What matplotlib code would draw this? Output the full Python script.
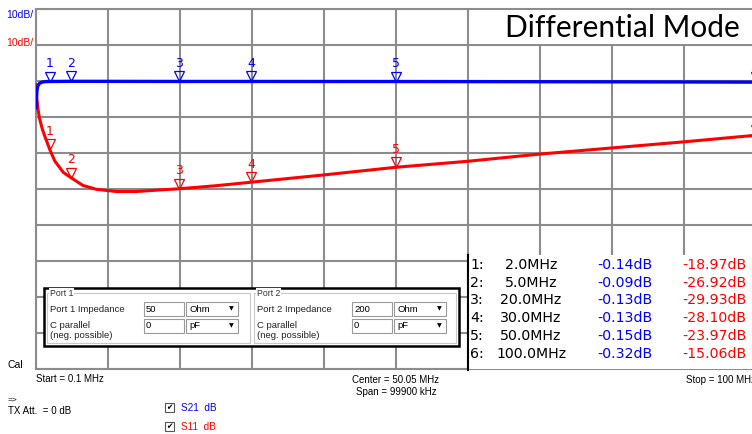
import matplotlib
matplotlib.use("Agg")
import matplotlib.pyplot as plt
from matplotlib.patches import Rectangle
from matplotlib.transforms import offset_copy

# trace data (MHz, dB)
s21_freq = [0.1, 0.15, 0.24, 0.35, 0.52, 0.75, 1.07, 1.5, 2.0, 5.0, 10.0, 20.0,
            30.0, 50.0, 60.0, 70.0, 80.0, 90.0, 100.0]
s21_db = [-7.4, -5.0, -2.5, -1.4, -0.8, -0.45, -0.25, -0.17, -0.14, -0.09, -0.10,
          -0.13, -0.13, -0.15, -0.17, -0.20, -0.23, -0.27, -0.32]

s11_freq = [0.1, 0.2, 0.35, 0.6, 1.0, 1.35, 2.0, 2.7, 3.9, 5.0, 6.6, 8.5, 11.3,
            14.0, 17.0, 20.0, 25.0, 30.0, 40.0, 50.0, 60.0, 70.0, 80.0, 90.0, 100.0]
s11_db = [-1.0, -4.5, -7.5, -10.5, -13.5, -15.5, -18.97, -22.2, -25.4, -26.92,
          -29.0, -30.1, -30.7, -30.7, -30.3, -29.93, -29.1, -28.10, -26.1, -23.97,
          -22.3, -20.3, -18.6, -16.9, -15.06]

mk_freq = [2.0, 5.0, 20.0, 30.0, 50.0, 100.0]
mk_label = ["2.0MHz", "5.0MHz", "20.0MHz", "30.0MHz", "50.0MHz", "100.0MHz"]
mk_s21 = [-0.14, -0.09, -0.13, -0.13, -0.15, -0.32]
mk_s11 = [-18.97, -26.92, -29.93, -28.10, -23.97, -15.06]

BLUE, RED, GRID = "#0000ff", "#ff0000", "#8c8c8c"
W, H = 752, 434

fig = plt.figure(figsize=(W / 100, H / 100), dpi=100)
ax = fig.add_axes([36 / W, 1 - 369 / H, 720 / W, 360 / H])
ax.set_xlim(0.1, 100)
ax.set_ylim(-80, 20)
ax.set_xticks([0.1 + 9.99 * i for i in range(11)])
ax.set_yticks(range(-80, 21, 10))
ax.tick_params(length=0, labelbottom=False, labelleft=False)
ax.grid(True, color=GRID, lw=1.5)
for s in ax.spines.values():
    s.set_color(GRID); s.set_linewidth(1.5)

ax.plot(s11_freq, s11_db, color=RED, lw=2.2, solid_joinstyle="round", zorder=3)
ax.plot(s21_freq, s21_db, color=BLUE, lw=2.4, solid_joinstyle="round", zorder=4)

up = offset_copy(ax.transData, fig=fig, x=0, y=5, units="dots")
for vals, c in ((mk_s21, BLUE), (mk_s11, RED)):
    ax.plot(mk_freq, vals, "v", ms=7, mfc="none", mec=c, mew=0.9,
            transform=up, clip_on=False, zorder=5)
    for i, (f, v) in enumerate(zip(mk_freq, vals)):
        ax.annotate(str(i + 1), (f, v), xytext=(0, 13), textcoords="offset points",
                    ha="center", va="center", color=c, fontsize=9,
                    annotation_clip=False, zorder=5)

# overlay in screen pixels for the GUI parts
ov = fig.add_axes([0, 0, 1, 1], zorder=10)
ov.set_xlim(0, W); ov.set_ylim(H, 0); ov.axis("off")

def box(x0, y0, x1, y1, fc="white", ec="none", lw=1.0):
    ov.add_patch(Rectangle((x0, y0), x1 - x0, y1 - y0, fc=fc, ec=ec, lw=lw))

def txt(x, y, s, **kw):
    kw.setdefault("fontsize", 6.8)
    kw.setdefault("va", "center")
    kw.setdefault("family", "Liberation Sans")
    ov.text(x, y, s, **kw)

# title
box(470, 10, 756, 44)
txt(505, 28, "Differential Mode", fontsize=21.5, family="Lato", color="black")

txt(33, 15, "10dB/", color=BLUE, ha="right", fontsize=7.5)
txt(33, 43, "10dB/", color=RED, ha="right", fontsize=7.5)

# marker table
box(468, 255, 756, 369)
ov.plot([468, 468], [255, 370], color="black", lw=1.5)
for i in range(6):
    y = 265 + 17.7 * i
    txt(470, y, f"{i + 1}:", fontsize=10.2, family="DejaVu Sans")
    txt(531, y, mk_label[i], fontsize=10.2, family="DejaVu Sans", ha="center")
    txt(597, y, f"{mk_s21[i]:.2f}dB", fontsize=10.2, family="DejaVu Sans", color=BLUE)
    txt(682, y, f"{mk_s11[i]:.2f}dB", fontsize=10.2, family="DejaVu Sans", color=RED)

# port settings box
box(44, 288, 459, 346, ec="black", lw=1.8)
for gx0, gx1, name, imp in ((47, 250, "Port 1", "50"), (254, 456, "Port 2", "200")):
    ov.add_patch(Rectangle((gx0, 293), gx1 - gx0, 50, fc="none", ec="#c8c8c8", lw=0.8))
    ov.text(gx0 + 3, 293, name, fontsize=6.3, va="center", family="Liberation Sans",
            color="#333333", bbox=dict(fc="white", ec="none", pad=0.5))
    txt(gx0 + 3, 309, f"{name} Impedance", fontsize=6.8, color="#222222")
    txt(gx0 + 3, 326, "C parallel", fontsize=6.8, color="#222222")
    txt(gx0 + 3, 336, "(neg. possible)", fontsize=6.8, color="#222222")
    tx = 144 if gx0 < 100 else 352
    for y0, val, unit in ((302, imp, "Ohm"), (319, "0", "pF")):
        box(tx, y0, tx + 40, y0 + 14, ec="#9a9a9a", lw=0.8)
        txt(tx + 2, y0 + 7, val, fontsize=6.8)
        box(tx + 42, y0, tx + 94, y0 + 14, ec="#9a9a9a", lw=0.8)
        txt(tx + 45, y0 + 7, unit, fontsize=6.8)
        txt(tx + 87, y0 + 7, "\u25bc", fontsize=4.5, ha="center", family="DejaVu Sans")

# bottom status texts
txt(8, 365, "Cal", fontsize=7.5)
txt(36, 379, "Start = 0.1 MHz", fontsize=7)
txt(396, 380, "Center = 50.05 MHz", ha="center", fontsize=7)
txt(396, 392, "Span = 99900 kHz", ha="center", fontsize=7)
txt(686, 380, "Stop = 100 MHz", fontsize=7)
txt(8, 400, "=>", fontsize=6)
txt(8, 411, "TX Att.  = 0 dB", fontsize=7)
for y, lab, c in ((408, "S21  dB", BLUE), (427, "S11  dB", RED)):
    box(165, y - 5, 174, y + 4, ec="#555555", lw=0.8)
    txt(169.5, y - 0.5, "\u2714", fontsize=5.5, ha="center", family="DejaVu Sans")
    txt(181, y, lab, color=c, fontsize=7.2)

fig.savefig("out.png", dpi=100)
